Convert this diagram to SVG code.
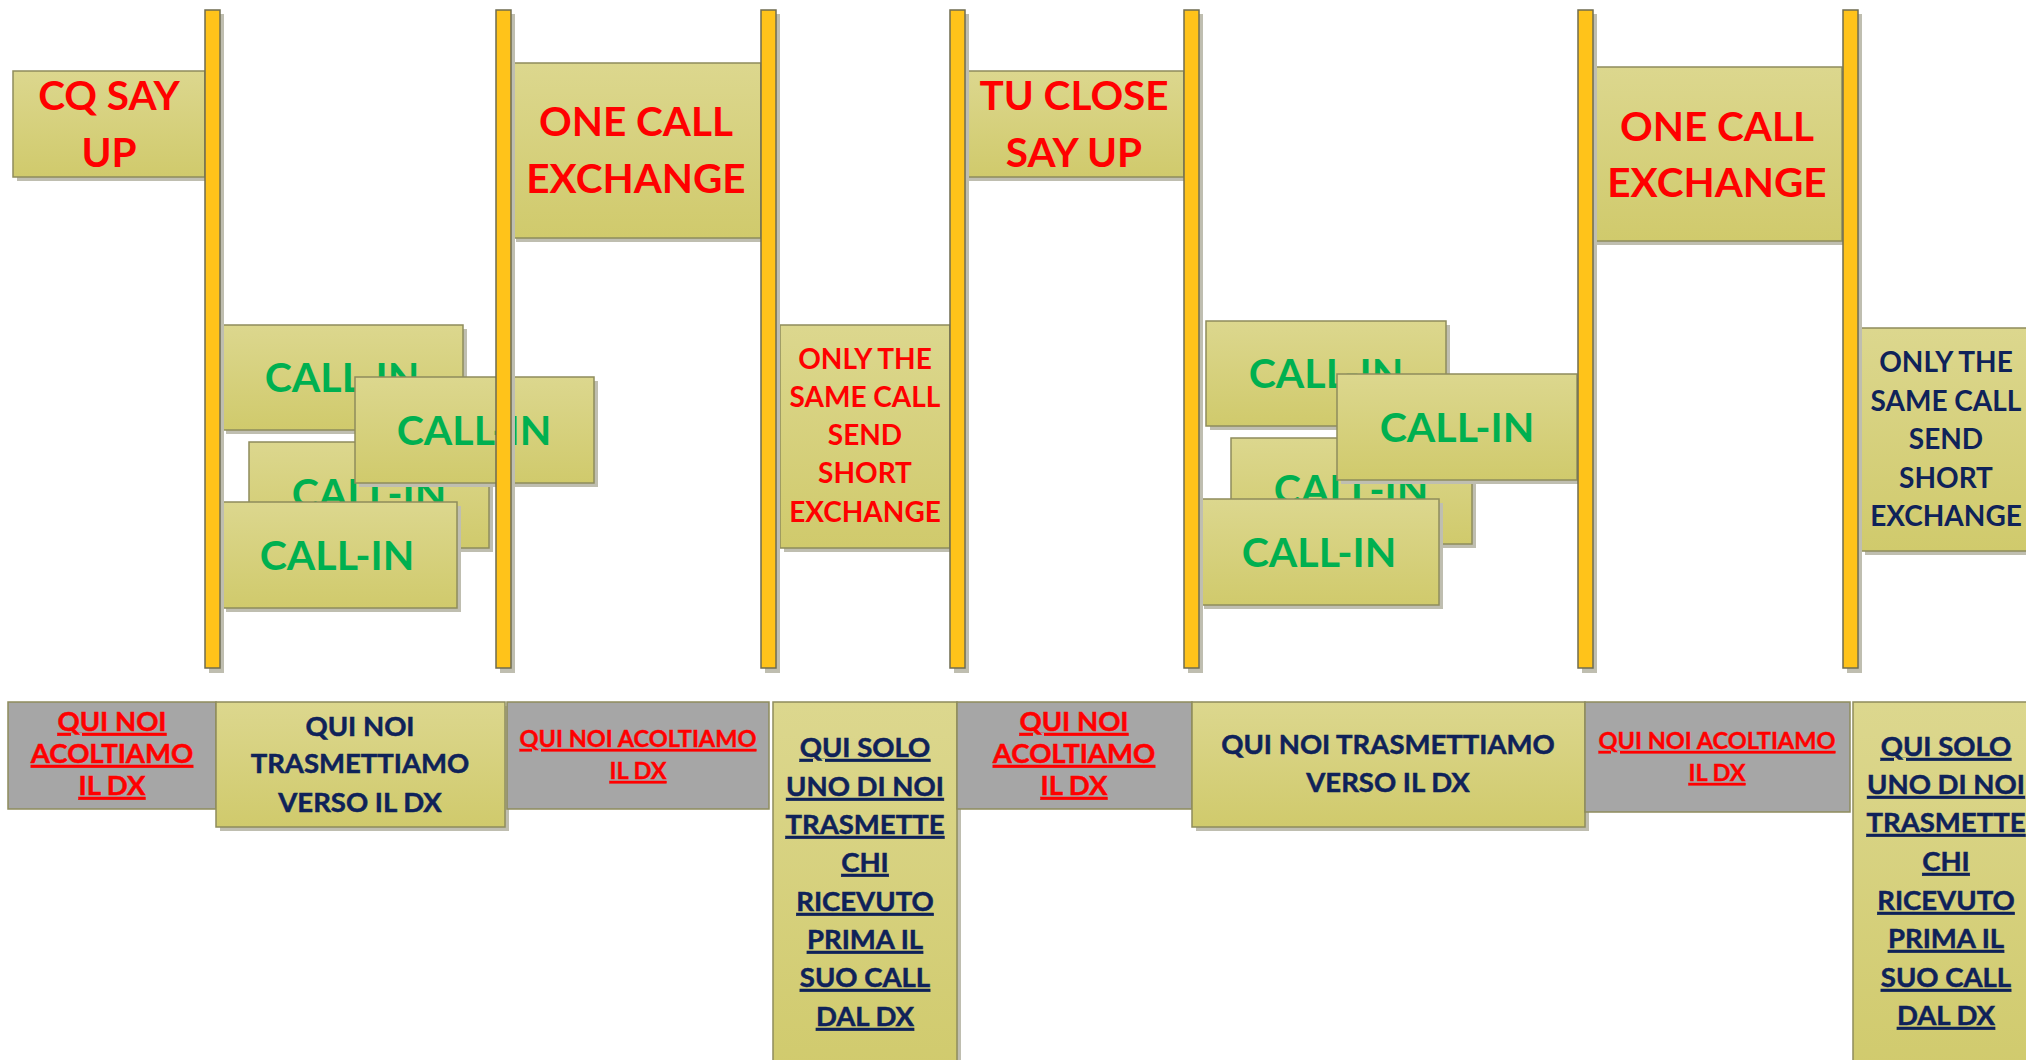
<svg xmlns="http://www.w3.org/2000/svg" width="2026" height="1060" viewBox="0 0 2026 1060">
<defs>
<linearGradient id="kh" x1="0" y1="0" x2="0" y2="1">
<stop offset="0" stop-color="#DCD78E"/>
<stop offset="1" stop-color="#D0CA6C"/>
</linearGradient>
<style>
.box{fill:url(#kh);stroke:#8E8C5C;stroke-width:1.5}
.grey{fill:#A6A6A6;stroke:#8E8C5C;stroke-width:1.5}
.sh{fill:#BFBEB0}
.bar{fill:#FFC31A;stroke:#6F6C50;stroke-width:1.5}
text{font-family:Lato,"Liberation Sans",sans-serif;font-weight:bold;text-anchor:middle}
.big{font-size:40.5px;fill:#FF0000}
.call{font-size:41px;fill:#00B050}
.mid{font-size:28px}
.sm{font-size:27.5px;stroke-width:0.5px}
.xs{font-size:23.5px;stroke-width:0.4px}
.red{fill:#FF0000}
.navy{fill:#0F2259}
.sm.red,.xs.red{stroke:#FF0000}
.sm.navy{stroke:#0F2259}
.u{text-decoration:underline}
</style>
</defs>
<rect width="2026" height="1060" fill="#FFFFFF"/>

<g id="cq-say-up">
<rect class="sh" x="17" y="75" width="192" height="106"/>
<rect class="box" x="13" y="71" width="192" height="106"/>
<text class="big" x="109" y="110">CQ SAY</text>
<text class="big" x="109" y="167">UP</text>
</g>

<g id="one-call-1">
<rect class="sh" x="516" y="67" width="249" height="175"/>
<rect class="box" x="512" y="63" width="249" height="175"/>
<text class="big" x="636" y="136">ONE CALL</text>
<text class="big" x="636" y="193">EXCHANGE</text>
</g>

<g id="tu-close">
<rect class="sh" x="969" y="75" width="219" height="106"/>
<rect class="box" x="965" y="71" width="219" height="106"/>
<text class="big" x="1074" y="110">TU CLOSE</text>
<text class="big" x="1074" y="167">SAY UP</text>
</g>

<g id="one-call-2">
<rect class="sh" x="1597" y="71" width="249" height="174"/>
<rect class="box" x="1593" y="67" width="249" height="174"/>
<text class="big" x="1717" y="141">ONE CALL</text>
<text class="big" x="1717" y="197">EXCHANGE</text>
</g>

<g id="only-same-1">
<rect class="sh" x="784" y="329" width="170" height="223"/>
<rect class="box" x="780" y="325" width="170" height="223"/>
<text class="mid red" x="865" y="369">ONLY THE</text>
<text class="mid red" x="865" y="407">SAME CALL</text>
<text class="mid red" x="865" y="445">SEND</text>
<text class="mid red" x="865" y="483">SHORT</text>
<text class="mid red" x="865" y="522">EXCHANGE</text>
</g>

<g id="only-same-2">
<rect class="sh" x="1865" y="332" width="170" height="223"/>
<rect class="box" x="1861" y="328" width="170" height="223"/>
<text class="mid navy" x="1946" y="372">ONLY THE</text>
<text class="mid navy" x="1946" y="411">SAME CALL</text>
<text class="mid navy" x="1946" y="449">SEND</text>
<text class="mid navy" x="1946" y="488">SHORT</text>
<text class="mid navy" x="1946" y="526">EXCHANGE</text>
</g>

<g id="call-in-1a">
<rect class="sh" x="226" y="329" width="241" height="105"/>
<rect class="box" x="222" y="325" width="241" height="105"/>
<text class="call" x="342" y="392">CALL-IN</text>
</g>
<g id="call-in-1b">
<rect class="sh" x="253" y="446" width="240" height="106"/>
<rect class="box" x="249" y="442" width="240" height="106"/>
<text class="call" x="369" y="508">CALL-IN</text>
</g>
<g id="call-in-1c">
<rect class="sh" x="359" y="381" width="239" height="106"/>
<rect class="box" x="355" y="377" width="239" height="106"/>
<text class="call" x="474" y="445">CALL-IN</text>
</g>
<g id="call-in-1d">
<rect class="sh" x="226" y="506" width="235" height="106"/>
<rect class="box" x="222" y="502" width="235" height="106"/>
<text class="call" x="337" y="570">CALL-IN</text>
</g>

<g id="call-in-2a">
<rect class="sh" x="1210" y="325" width="240" height="105"/>
<rect class="box" x="1206" y="321" width="240" height="105"/>
<text class="call" x="1326" y="388">CALL-IN</text>
</g>
<g id="call-in-2b">
<rect class="sh" x="1235" y="442" width="241" height="106"/>
<rect class="box" x="1231" y="438" width="241" height="106"/>
<text class="call" x="1351" y="504">CALL-IN</text>
</g>
<g id="call-in-2c">
<rect class="sh" x="1341" y="378" width="240" height="106"/>
<rect class="box" x="1337" y="374" width="240" height="106"/>
<text class="call" x="1457" y="442">CALL-IN</text>
</g>
<g id="call-in-2d">
<rect class="sh" x="1204" y="503" width="239" height="106"/>
<rect class="box" x="1200" y="499" width="239" height="106"/>
<text class="call" x="1319" y="567">CALL-IN</text>
</g>

<g id="bars">
<rect class="sh" x="209" y="14" width="15" height="659"/>
<rect class="bar" x="205" y="10" width="15" height="658"/>
<rect class="sh" x="500" y="14" width="15" height="659"/>
<rect class="bar" x="496" y="10" width="15" height="658"/>
<rect class="sh" x="765" y="14" width="15" height="659"/>
<rect class="bar" x="761" y="10" width="15" height="658"/>
<rect class="sh" x="954" y="14" width="15" height="659"/>
<rect class="bar" x="950" y="10" width="15" height="658"/>
<rect class="sh" x="1188" y="14" width="15" height="659"/>
<rect class="bar" x="1184" y="10" width="15" height="658"/>
<rect class="sh" x="1582" y="14" width="15" height="659"/>
<rect class="bar" x="1578" y="10" width="15" height="658"/>
<rect class="sh" x="1847" y="14" width="15" height="659"/>
<rect class="bar" x="1843" y="10" width="15" height="658"/>
</g>

<g id="listen-1">
<rect class="grey" x="8" y="702" width="208" height="107"/>
<text class="sm red u" x="112" y="731">QUI NOI</text>
<text class="sm red u" x="112" y="763">ACOLTIAMO</text>
<text class="sm red u" x="112" y="795">IL DX</text>
</g>
<g id="transmit-1">
<rect class="sh" x="220" y="706" width="289" height="125"/>
<rect class="box" x="216" y="702" width="289" height="125"/>
<text class="sm navy" x="360" y="736">QUI NOI</text>
<text class="sm navy" x="360" y="773">TRASMETTIAMO</text>
<text class="sm navy" x="360" y="812">VERSO IL DX</text>
</g>
<g id="listen-2">
<rect class="grey" x="507" y="702" width="262" height="107"/>
<text class="xs red u" x="638" y="747">QUI NOI ACOLTIAMO</text>
<text class="xs red u" x="638" y="779">IL DX</text>
</g>
<g id="only-one-1">
<rect class="sh" x="777" y="706" width="184" height="380"/>
<rect class="box" x="773" y="702" width="184" height="380"/>
<text class="sm navy u" x="865" y="757">QUI SOLO</text>
<text class="sm navy u" x="865" y="796">UNO DI NOI</text>
<text class="sm navy u" x="865" y="834">TRASMETTE</text>
<text class="sm navy u" x="865" y="872">CHI</text>
<text class="sm navy u" x="865" y="911">RICEVUTO</text>
<text class="sm navy u" x="865" y="949">PRIMA IL</text>
<text class="sm navy u" x="865" y="987">SUO CALL</text>
<text class="sm navy u" x="865" y="1026">DAL DX</text>
</g>
<g id="listen-3">
<rect class="grey" x="957" y="702" width="235" height="107"/>
<text class="sm red u" x="1074" y="731">QUI NOI</text>
<text class="sm red u" x="1074" y="763">ACOLTIAMO</text>
<text class="sm red u" x="1074" y="795">IL DX</text>
</g>
<g id="transmit-2">
<rect class="sh" x="1196" y="706" width="393" height="125"/>
<rect class="box" x="1192" y="702" width="393" height="125"/>
<text class="sm navy" x="1388" y="754">QUI NOI TRASMETTIAMO</text>
<text class="sm navy" x="1388" y="792">VERSO IL DX</text>
</g>
<g id="listen-4">
<rect class="grey" x="1585" y="702" width="265" height="110"/>
<text class="xs red u" x="1717" y="749">QUI NOI ACOLTIAMO</text>
<text class="xs red u" x="1717" y="781">IL DX</text>
</g>
<g id="only-one-2">
<rect class="sh" x="1857" y="706" width="184" height="380"/>
<rect class="box" x="1853" y="702" width="184" height="380"/>
<text class="sm navy u" x="1946" y="756">QUI SOLO</text>
<text class="sm navy u" x="1946" y="794">UNO DI NOI</text>
<text class="sm navy u" x="1946" y="832">TRASMETTE</text>
<text class="sm navy u" x="1946" y="871">CHI</text>
<text class="sm navy u" x="1946" y="910">RICEVUTO</text>
<text class="sm navy u" x="1946" y="948">PRIMA IL</text>
<text class="sm navy u" x="1946" y="987">SUO CALL</text>
<text class="sm navy u" x="1946" y="1025">DAL DX</text>
</g>
</svg>
